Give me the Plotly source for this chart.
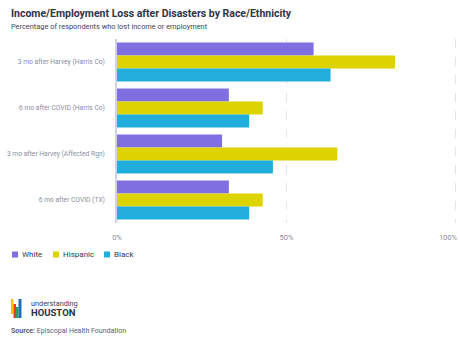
import plotly.graph_objects as go

# Survey periods (top to bottom) and share of respondents reporting lost income/employment (%)
periods = [
    "3 mo after Harvey (Harris Co)",
    "6 mo after COVID (Harris Co)",
    "3 mo after Harvey (Affected Rgn)",
    "6 mo after COVID (TX)",
]
white = [58, 33, 31, 33]
hispanic = [82, 43, 65, 43]
black = [63, 39, 46, 39]

groups = ["White", "Hispanic", "Black"]
colors = ["#7f6fe0", "#dcd300", "#22aedc"]
series = [white, hispanic, black]

W, H = 460, 345
L, R, T, B = 117, 2, 39, 122
PW, PH = W - L - R, H - T - B
X_MAX = 100.6  # a little headroom so the 100% gridline is not clipped


def px(x):
    return (x - L) / PW


def py(y):
    return (H - B - y) / PH


fig = go.Figure()
for name, vals, col in zip(groups, series, colors):
    fig.add_trace(go.Bar(
        y=periods, x=vals, name=name, orientation="h",
        marker=dict(color=col, line=dict(width=0)),
        hovertemplate="%{y}<br>" + name + ": %{x}%<extra></extra>",
    ))
# empty trace so the overlay axis carrying the right-end label is drawn
fig.add_trace(go.Scatter(x=[], y=[], xaxis="x2", yaxis="y", showlegend=False, hoverinfo="skip"))

shapes = []
annotations = []


def text(s, x, y, size, color, anchor="middle"):
    annotations.append(dict(text=s, xref="paper", yref="paper", x=px(x), y=py(y),
                            xanchor="left", yanchor=anchor, showarrow=False,
                            borderpad=0, font=dict(size=size, color=color, family="Roboto")))


# Heading
text("<b>Income/Employment Loss after Disasters by Race/Ethnicity</b>", 10, 13, 10.5, "#2e3447")
text("Percentage of respondents who lost income or employment", 10, 27, 7.4, "#3e4455")

# Hand-placed legend row
leg_x = [12, 53, 104]
for name, col, x0 in zip(groups, colors, leg_x):
    shapes.append(dict(type="rect", xref="paper", yref="paper",
                       x0=px(x0), x1=px(x0 + 6), y0=py(257.5), y1=py(251.5),
                       fillcolor=col, line=dict(width=0)))
    text(name, x0 + 9, 254.5, 8, "#333a4d")

# Brand mark: four coloured bars
logo = [(11, 13.5, 299, 314, "#f2c500"), (13.5, 16, 304, 318, "#e03c31"),
        (16, 18.5, 307, 318, "#2a9d5a"), (18.5, 21.5, 299, 318, "#1f6fb8")]
for x0, x1, y0, y1, c in logo:
    shapes.append(dict(type="rect", xref="paper", yref="paper",
                       x0=px(x0), x1=px(x1), y0=py(y1), y1=py(y0),
                       fillcolor=c, line=dict(width=0)))
text("understanding", 29.5, 303.5, 7.3, "#3a4255")
text("<b>HOUSTON</b>", 29.5, 312.5, 9.5, "#27304a")
text("<b>Source:</b> Episcopal Health Foundation", 10, 331, 7, "#5a6072")

tick_font = dict(size=7.5, color="#8a8f9c")
fig.update_layout(
    width=W, height=H,
    margin=dict(l=L, r=R, t=T, b=B),
    paper_bgcolor="white", plot_bgcolor="white",
    barmode="group", bargap=0.15, bargroupgap=0,
    showlegend=False,
    font=dict(family="Roboto", color="#8a8f9c", size=7.5),
    xaxis=dict(
        range=[0, X_MAX], tickvals=[0, 50, 100], ticktext=["0%", "50%", ""],
        showgrid=True, gridcolor="#e3e4ea", griddash="dash", gridwidth=1,
        zeroline=False, showline=False, ticks="", automargin=False,
        ticklabelstandoff=8, tickfont=tick_font, fixedrange=True,
    ),
    # right-end label pulled inward so it stays inside the figure
    xaxis2=dict(
        overlaying="x", side="bottom", range=[0, X_MAX],
        tickvals=[100], ticktext=["100%"], ticklabelshift=-8,
        showgrid=False, zeroline=False, showline=False, ticks="", automargin=False,
        ticklabelstandoff=8, tickfont=tick_font, fixedrange=True,
    ),
    yaxis=dict(
        autorange="reversed", showline=True, linecolor="#cfd0ea", linewidth=1.5,
        ticks="", showgrid=False, automargin=False, ticklabelstandoff=9,
        tickfont=dict(size=6.7, color="#8a8f9c"), fixedrange=True,
    ),
    shapes=shapes, annotations=annotations,
)

fig.write_html("out.html")
